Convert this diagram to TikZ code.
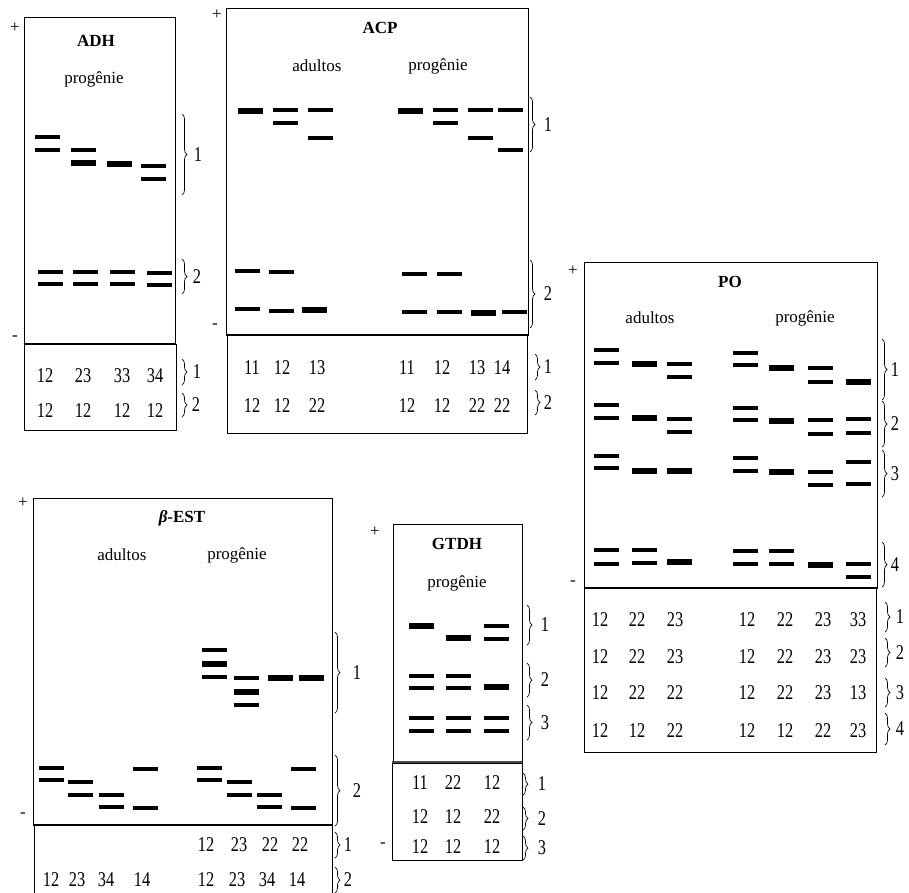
\documentclass[tikz,border=0pt]{standalone}
\usepackage{fontspec}
\setmainfont{Liberation Serif}
\newfontfamily\numfont[FakeStretch=0.78]{Liberation Serif}
\usetikzlibrary{decorations.pathreplacing}

% one row of genotype numbers: prefix, y, list of x/value
\newcommand\cells[3]{\foreach \xx/\vv [count=\k] in {#3} {\node[num] (#1-\k) at (\xx,#2) {\vv};}}
% a locus brace with its number: name, x, top, bottom, label x, label
\newcommand\brlab[6]{\draw[brc] (#2,#3) -- (#2,#4);
  \node[num] (#1) at (#5,{(#3+#4)/2}) {#6};}
% gel bands: list of left-x/y, each 25 units long
\newcommand\bands[2][band]{\foreach \xx/\yy in {#2} {\draw[#1] (\xx,\yy) -- ++(25,0);}}

\begin{document}
\begin{tikzpicture}[x=1pt,y=-1pt,
  frame/.style={draw=black,line width=0.9pt},
  sep/.style={line width=2pt},
  band/.style={line width=4pt},
  hband/.style={line width=5.5pt},
  word/.style={inner sep=0pt,font=\fontsize{17}{17}\selectfont},
  head/.style={inner sep=0pt,font=\bfseries\fontsize{17}{17}\selectfont},
  num/.style={inner sep=0pt,font=\numfont\fontsize{21}{21}\selectfont},
  sign/.style={inner sep=0pt,font=\fontsize{17}{17}\selectfont},
  brc/.style={decorate,decoration={brace,amplitude=5pt},line width=0.7pt}]
\useasboundingbox (0,0) rectangle (909,892);
\clip (0,0) rectangle (909,892);

% ---------------- ADH ----------------
\draw[frame] (24,17) rectangle (175,344);
\draw[frame] (24,344) rectangle (176,430);
\draw[sep] (24,344) -- (176,344);
\node[sign] (adh-plus) at (15,28) {+};
\node[sign] (adh-minus) at (15,338) {-};
\node[head] (adh-title) at (96,41) {ADH};
\node[word] (adh-prog) at (94,79) {progênie};
\bands{35/137,35/150,71/150,141/166,141/179}
\bands[hband]{71/163,107/164}
\bands{38/272,38/284,73/272,73/284,110/272,110/284,147/273,147/285}
\brlab{adh-l1}{182}{114}{195}{198}{1}
\brlab{adh-l2}{182}{259}{294}{197}{2}
\cells{adh-r1}{376}{45/12,83/23,122/33,155/34}
\cells{adh-r2}{411}{45/12,83/12,122/12,155/12}
\brlab{adh-t1}{182}{359}{385}{197}{1}
\brlab{adh-t2}{182}{393}{417}{196}{2}

% ---------------- ACP ----------------
\draw[frame] (226,8) rectangle (528,335);
\draw[frame] (227,335) rectangle (527,433);
\draw[sep] (226,335) -- (528,335);
\node[sign] (acp-plus) at (217,15) {+};
\node[sign] (acp-minus) at (215,326) {-};
\node[head] (acp-title) at (380,28) {ACP};
\node[word] (acp-ad) at (317,66) {adultos};
\node[word] (acp-prog) at (438,66) {progênie};
\bands[hband]{238/111,398/111,302/310,471/313}
\bands{273/110,273/123,308/110,308/138,433/110,433/123,468/110,468/138,498/110,498/150}
\bands{235/271,235/309,269/272,269/311,402/274,402/312,437/274,437/312,502/312}
\brlab{acp-l1}{530}{97}{152}{548}{1}
\brlab{acp-l2}{530}{260}{328}{548}{2}
\cells{acp-r1}{368}{252/11,282/12,317/13,407/11,442/12,477/13,502/14}
\cells{acp-r2}{406}{252/12,282/12,317/22,407/12,442/12,477/22,502/22}
\brlab{acp-t1}{535}{354}{380}{548}{1}
\brlab{acp-t2}{535}{390}{415}{548}{2}

% ---------------- PO ----------------
\draw[frame] (584,262) rectangle (877,588);
\draw[frame] (584,588) rectangle (876,752);
\draw[sep] (584,588) -- (877,588);
\node[sign] (po-plus) at (573,271) {+};
\node[sign] (po-minus) at (573,583) {-};
\node[head] (po-title) at (730,282) {PO};
\node[word] (po-ad) at (650,318) {adultos};
\node[word] (po-prog) at (805,318) {progênie};
\bands{594/350,594/363,667/364,667/377,733/353,733/365,808/368,808/382}
\bands[hband]{632/364,769/368,846/382}
\bands{594/405,594/418,667/419,667/432,733/408,733/420,808/420,808/434,846/419,846/433}
\bands[hband]{632/418,769/421}
\bands{594/456,594/468,733/458,733/471,808/472,808/485,846/462,846/484}
\bands[hband]{632/471,667/471,769/472}
\bands{594/550,594/564,632/550,632/563,733/551,733/564,769/551,769/564,846/564,846/577}
\bands[hband]{667/562,808/565}
\brlab{po-l1}{882}{339}{400}{895}{1}
\brlab{po-l2}{882}{401}{447}{895}{2}
\brlab{po-l3}{882}{450}{497}{895}{3}
\brlab{po-l4}{882}{542}{587}{895}{4}
\cells{po-r1}{620}{600/12,637/22,675/23,747/12,785/22,823/23,858/33}
\cells{po-r2}{657}{600/12,637/22,675/23,747/12,785/22,823/23,858/23}
\cells{po-r3}{693}{600/12,637/22,675/22,747/12,785/22,823/23,858/13}
\cells{po-r4}{731}{600/12,637/12,675/22,747/12,785/12,823/22,858/23}
\brlab{po-t1}{885}{602}{632}{900}{1}
\brlab{po-t2}{885}{638}{667}{900}{2}
\brlab{po-t3}{885}{678}{707}{900}{3}
\brlab{po-t4}{885}{713}{745}{900}{4}

% ---------------- beta-EST ----------------
\draw[frame] (33,498) rectangle (332,825);
\draw[frame] (34,825) rectangle (332,905);
\draw[sep] (33,825) -- (332,825);
\node[sign] (est-plus) at (23,503) {+};
\node[sign] (est-minus) at (23,815) {-};
\node[head] (est-title) at (182,518) {\textit{β}-EST};
\node[word] (est-ad) at (122,555) {adultos};
\node[word] (est-prog) at (237,555) {progênie};
\bands{202/650,202/677,234/678,234/705}
\bands[hband]{202/664,234/692,268/678,299/678}
\bands{39/768,39/780,68/782,68/795,99/795,99/807,133/769,133/808}
\bands{197/768,197/780,227/782,227/795,257/795,257/807,291/769,291/808}
\brlab{est-l1}{335}{632}{713}{357}{1}
\brlab{est-l2}{335}{755}{826}{357}{2}
\cells{est-r1}{845}{206/12,239/23,270/22,300/22}
\cells{est-r2}{880}{51/12,77/23,106/34,142/14,206/12,237/23,267/34,297/14}
\brlab{est-t1}{335}{832}{858}{348}{1}
\brlab{est-t2}{335}{867}{893}{348}{2}

% ---------------- GTDH ----------------
\draw[frame] (393,524) rectangle (522,762);
\draw[frame] (392,763) rectangle (522,860);
\draw[sep,black!70] (392,762) -- (522,762);
\node[sign] (gt-plus) at (375,532) {+};
\node[sign] (gt-minus) at (383,845) {-};
\node[head] (gt-title) at (457,544) {GTDH};
\node[word] (gt-prog) at (457,583) {progênie};
\bands[hband]{409/626,446/638,484/687}
\bands{484/626,484/639}
\bands{409/676,409/688,446/676,446/688}
\bands{409/718,409/731,446/718,446/731,484/718,484/731}
\brlab{gt-l1}{527}{605}{645}{545}{1}
\brlab{gt-l2}{527}{663}{697}{545}{2}
\brlab{gt-l3}{527}{705}{740}{545}{3}
\cells{gt-r1}{783}{420/11,453/22,492/12}
\cells{gt-r2}{817}{420/12,453/12,492/22}
\cells{gt-r3}{847}{420/12,453/12,492/12}
\brlab{gt-t1}{523}{773}{795}{542}{1}
\brlab{gt-t2}{523}{807}{830}{542}{2}
\brlab{gt-t3}{523}{836}{860}{542}{3}
\end{tikzpicture}
\end{document}
